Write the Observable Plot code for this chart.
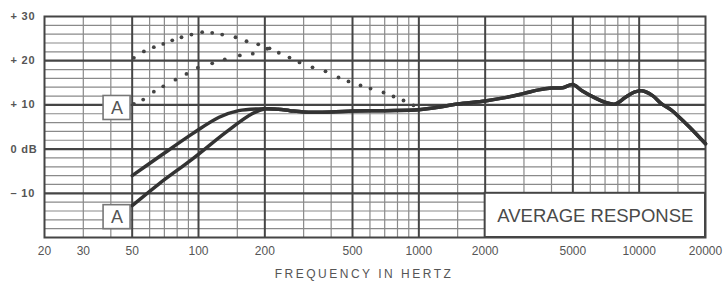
<!DOCTYPE html>
<html><head><meta charset="utf-8">
<script src="https://cdn.jsdelivr.net/npm/d3@7"></script>
<script src="https://cdn.jsdelivr.net/npm/@observablehq/plot@0.6"></script>
<style>body{margin:0;background:#fff}</style>
</head><body><div id="chart"></div>
<script>
// Axis ticks
const freqTicks = [20, 30, 50, 100, 200, 500, 1000, 2000, 5000, 10000, 20000];
const dbTicks = [30, 20, 10, 0, -10];
const dbTickLabels = ["+ 30", "+ 20", "+ 10", "0 dB", "\u2013 10"];
const gridMajorHz = [50, 100, 200, 500, 1000, 2000, 5000, 10000];
const gridMinorHz = [30, 40, 60, 70, 80, 90, 150, 300, 400, 600, 700, 800, 900, 1500, 3000, 4000, 6000, 7000, 8000, 9000, 15000];
const gridMajorDb = [-10, 0, 10, 20];
const gridMinorDb = [-18, -16, -14, -12, -8, -6, -4, -2, 2, 4, 6, 8, 12, 14, 16, 18, 22, 24, 26, 28];

// Solid curves: two low-frequency branches, one shared upper-frequency tail
const upperSolidHz = [50, 66, 94, 124, 152, 187];
const upperSolidDb = [-6.0, -1.8, 3.5, 7.2, 8.7, 9.1];
const lowerSolidHz = [50, 66, 94, 133, 175, 201];
const lowerSolidDb = [-12.8, -7.9, -2.2, 3.8, 8.0, 9.1];
const tailHz = [230, 260, 300, 400, 500, 700, 1000, 1200, 1500, 2000, 2500, 3000, 3500, 4000, 4500, 5000, 5500, 6300, 7000, 7800, 8600, 9500, 10300, 11500, 12600, 14000, 15000, 17000, 20000];
const tailDb = [9.0, 8.7, 8.4, 8.4, 8.6, 8.7, 8.9, 9.4, 10.2, 10.9, 11.7, 12.6, 13.4, 13.8, 13.9, 14.6, 13.2, 11.6, 10.6, 10.2, 11.6, 12.9, 13.2, 12.1, 10.3, 8.8, 7.5, 4.9, 1.2];

// Dotted curves
const upperDotHz = [50.9, 56.5, 62.7, 69.2, 76.0, 83.7, 92.9, 103.9, 115.4, 128.1, 147.2, 165.2, 186.7, 210, 231.4];
const upperDotDb = [20.65, 22.1, 23.05, 23.8, 24.6, 25.3, 25.9, 26.45, 26.3, 25.9, 25.3, 24.4, 23.7, 22.8, 21.8];
const lowerDotHz = [50.9, 56.1, 62.7, 69.2, 78.6, 88.2, 99.3, 115.4, 131.6, 154, 176.3, 205.1];
const lowerDotDb = [10.25, 11.2, 13.0, 14.2, 15.7, 17.0, 18.4, 19.4, 20.3, 21.2, 21.6, 22.7];
const dotTailHz = [258.8, 287.4, 329.2, 377, 432, 479.5, 543.7, 603.5, 691.4, 767.5, 852, 945.5];
const dotTailDb = [20.7, 19.6, 18.5, 17.6, 16.2, 15.3, 14.4, 13.7, 12.8, 11.9, 11.0, 9.9];

const pts = (hz, db) => hz.map((h, i) => ({hz: h, db: db[i]}));
const upperSolid = pts([...upperSolidHz, ...tailHz], [...upperSolidDb, ...tailDb]);
const lowerSolid = pts([...lowerSolidHz, ...tailHz], [...lowerSolidDb, ...tailDb]);
const dots = [...pts(upperDotHz, upperDotDb), ...pts(lowerDotHz, lowerDotDb), ...pts(dotTailHz, dotTailDb)];

const boxA = [{hz: 42.7, db: 9.3}, {hz: 42.7, db: -15.4}];

const font = "'Liberation Sans', Arial, Helvetica, sans-serif";
const plot = Plot.plot({
  width: 723, height: 283,
  marginLeft: 44, marginRight: 18, marginTop: 16, marginBottom: 46,
  style: {fontFamily: font, background: "#fff", overflow: "visible"},
  x: {type: "log", domain: [20, 20000], axis: null},
  y: {domain: [-20, 30], axis: null},
  marks: [
    Plot.ruleX(gridMinorHz, {stroke: "#8a8a8a", strokeWidth: 1.2}),
    Plot.ruleY(gridMinorDb, {stroke: "#8a8a8a", strokeWidth: 1.2}),
    Plot.ruleX(gridMajorHz, {stroke: "#454545", strokeWidth: 2}),
    Plot.ruleY(gridMajorDb, {stroke: "#454545", strokeWidth: 2.2}),
    Plot.frame({stroke: "#454545", strokeWidth: 2}),
    Plot.rect([{x1: 2000, x2: 20000, y1: -20, y2: -10}], {x1: "x1", x2: "x2", y1: "y1", y2: "y2", fill: "white", stroke: "#454545", strokeWidth: 2}),
    Plot.text(["AVERAGE RESPONSE"], {x: Math.sqrt(2000 * 20000), y: -15.1, fontSize: 18.5, fill: "#4a4a4a", lineAnchor: "middle"}),
    Plot.line(upperSolid, {x: "hz", y: "db", curve: "catmull-rom", stroke: "#333", strokeWidth: 3.5, strokeLinejoin: "round", strokeLinecap: "round"}),
    Plot.line(lowerSolid, {x: "hz", y: "db", curve: "catmull-rom", stroke: "#333", strokeWidth: 3.5, strokeLinejoin: "round", strokeLinecap: "round"}),
    Plot.dot(dots, {x: "hz", y: "db", r: 1.9, fill: "#444", stroke: "none"}),
    Plot.rect(boxA, {x1: "hz", x2: "hz", y1: "db", y2: "db", insetLeft: -13.5, insetRight: -13.5, insetTop: -12, insetBottom: -12, fill: "white", stroke: "#777", strokeWidth: 1.6}),
    Plot.text(boxA, {x: "hz", y: "db", text: () => "A", fontSize: 18, fill: "#555", lineAnchor: "middle"}),
    Plot.text(dbTicks, {y: d => d, text: (d, i) => dbTickLabels[i], frameAnchor: "left", dx: -34, textAnchor: "start", lineAnchor: "middle", fontSize: 11, fontWeight: "bold", fill: "#555"}),
    Plot.text(freqTicks, {x: d => d, text: d => String(d), frameAnchor: "bottom", dy: 13.5, lineAnchor: "middle", fontSize: 12, fill: "#555"}),
    Plot.text(["FREQUENCY IN HERTZ"], {frameAnchor: "bottom", dx: -11, dy: 37, lineAnchor: "middle", fontSize: 12, fill: "#555"})
  ]
});
d3.select(plot).selectAll("text").filter(function() { return this.textContent === "FREQUENCY IN HERTZ"; }).attr("letter-spacing", "2.5px");
d3.select(plot).selectAll("text").filter(function() { return dbTickLabels.includes(this.textContent); }).attr("letter-spacing", "0.8px");
document.getElementById("chart").appendChild(plot);
</script>
</body></html>
